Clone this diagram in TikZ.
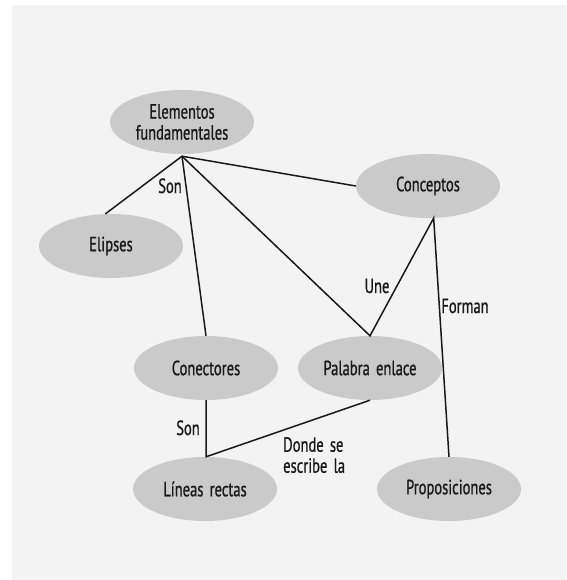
\documentclass[tikz,border=0pt]{standalone}
\usepackage{fontspec}
\setmainfont{PT Sans}[FakeStretch=0.71,FakeBold=0.8,WordSpace=1.6]
\usepackage{xcolor}
\usetikzlibrary{shapes.geometric}

\definecolor{grisnodo}{RGB}{202,202,202}
\definecolor{grisfondo}{RGB}{243,243,243}
\definecolor{tinta}{RGB}{25,25,25}

\tikzset{
concepto/.style={ellipse, fill=grisnodo, minimum width=144, minimum height=64, inner sep=0, align=center, text=tinta, font=\fontsize{20.5}{21}\selectfont},
rotulo/.style={inner sep=0, text=tinta, font=\fontsize{20.5}{21}\selectfont},
enlace/.style={draw=tinta, line width=1.5},
}

\begin{document}
\begin{tikzpicture}[x=1pt,y=-1pt]
\useasboundingbox (0,0) rectangle (566,580);
\fill[white] (0,0) rectangle (566,580);
\fill[grisfondo] (12,5) rectangle (566,580);

\node[concepto] (elem) at (182,122) {Elementos\\fundamentales};
\node[concepto] (conc) at (428,186) {Conceptos};
\node[concepto] (elip) at (111,246) {Elipses};
\node[concepto] (conec) at (206,368) {Conectores};
\node[concepto] (palabra) at (370,368) {Palabra enlace};
\node[concepto] (lineas) at (205,489) {Líneas rectas};
\node[concepto] (prop) at (449,489) {Proposiciones};

\draw[enlace] (elip.100) -- ([yshift=-2pt]elem.south) -- (conc.west);
\draw[enlace] ([yshift=-2pt]elem.south) -- (conec.north);
\draw[enlace] ([yshift=-2pt]elem.south) -- (palabra.north) -- (conc.-80) -- (prop.north);
\draw[enlace] (conec.south) -- (conec.south |- lineas.north) -- (palabra.south);

\node[rotulo, anchor=base] (son1) at (170,193) {Son};
\node[rotulo, anchor=base] (une) at (377,293) {Une};
\node[rotulo, anchor=base] (forman) at (465,313) {Forman};
\node[rotulo, anchor=base] (son2) at (188,435) {Son};
\node[rotulo, anchor=north west, align=left] (donde) at (283,437) {Donde se\\escribe la};

\end{tikzpicture}
\end{document}
